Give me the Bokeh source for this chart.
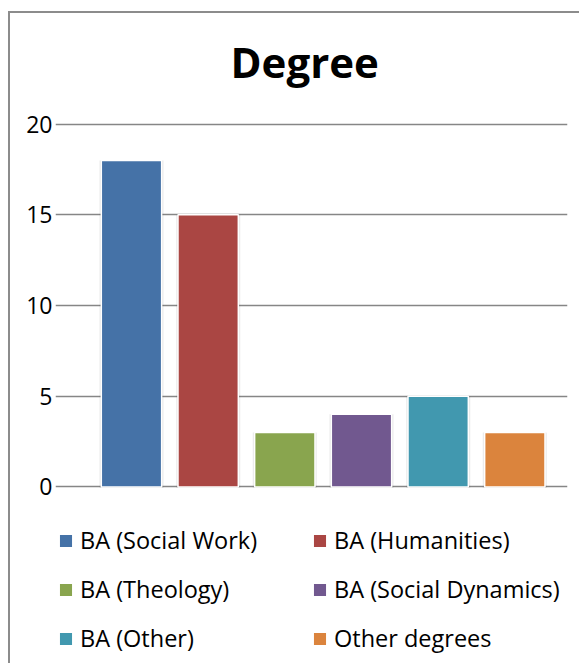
from bokeh.plotting import figure
from bokeh.models import (Range1d, FixedTicker, Legend, LegendItem, Title,
                          ColumnDataSource)
from bokeh.embed import file_html
from bokeh.resources import INLINE

# ---- data ----
categories = ["BA (Social Work)", "BA (Humanities)", "BA (Theology)",
              "BA (Social Dynamics)", "BA (Other)", "Other degrees"]
values = [18, 15, 3, 4, 5, 3]
colors = ["#4572A7", "#AA4643", "#89A54E", "#71588F", "#4198AF", "#DB843D"]
y_ticks = [0, 5, 10, 15, 20]
title_text = "Degree"

FONT = "Open Sans"

p = figure(width=571, height=652, output_backend="svg", toolbar_location=None,
           x_range=Range1d(-0.991, 5.687), y_range=Range1d(-9.845, 20.805),
           min_border_left=45, min_border_right=14, min_border_top=96,
           min_border_bottom=0,
           styles={"margin-left": "8px", "margin-top": "11px",
                   "border-left": "2px solid #8c8c8c",
                   "border-top": "2px solid #8c8c8c"})
p.outline_line_color = None
p.background_fill_color = "white"
p.border_fill_color = "white"

# title
t = Title(text=title_text, align="left", offset=175, vertical_align="top",
          standoff=36, text_font=FONT, text_font_size="42px",
          text_font_style="bold", text_color="black")
p.add_layout(t, "above")

# axes
p.xaxis.visible = False
p.xgrid.visible = False
yax = p.yaxis[0]
yax.ticker = FixedTicker(ticks=y_ticks)
yax.axis_line_color = None
yax.major_tick_line_color = None
yax.major_tick_out = 0
yax.major_tick_in = 0
yax.minor_tick_line_color = None
yax.major_label_text_font = FONT
yax.major_label_text_font_size = "23px"
yax.major_label_text_color = "black"
yax.major_label_standoff = 3
p.ygrid.grid_line_color = "#868686"
p.ygrid.grid_line_width = 1.3
p.ygrid.ticker = FixedTicker(ticks=y_ticks)
p.ygrid.bounds = (-0.678, 5.687)

xs = list(range(len(categories)))
src = ColumnDataSource(dict(x=xs, top=values, color=colors, cat=categories))

# soft shadow
p.vbar(x="x", top="top", width=0.84, bottom=-0.06, source=src,
       fill_color="#000000", fill_alpha=0.06, line_color=None)
p.vbar(x="x", top="top", width=0.815, bottom=-0.03, source=src,
       fill_color="#000000", fill_alpha=0.06, line_color=None)
renderers = []
for i in xs:
    r = p.vbar(x=[xs[i]], top=[values[i]], width=0.787, bottom=0,
               fill_color=colors[i], line_color="white", line_width=1.5)
    renderers.append(r)

items = [LegendItem(label=categories[i], renderers=[renderers[i]]) for i in xs]
legend = Legend(items=items, orientation="horizontal", ncols=2,
                location=(2, 11), padding=0, margin=0,
                border_line_color=None, background_fill_alpha=0,
                glyph_width=17, glyph_height=17, label_standoff=6,
                label_height=26, label_width=214, spacing=17,
                label_text_font=FONT, label_text_font_size="23.5px",
                label_text_color="black")
p.add_layout(legend, "center")

open("out.html", "w").write(file_html(p, INLINE))
